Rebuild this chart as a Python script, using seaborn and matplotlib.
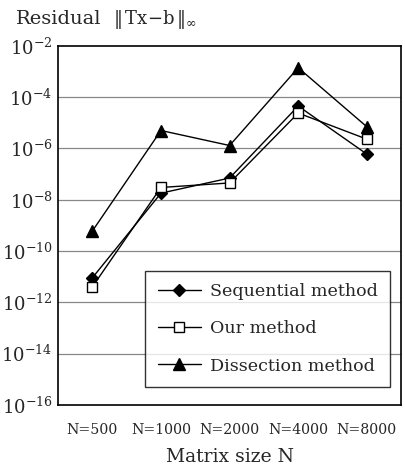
import numpy as np
import pandas as pd
import matplotlib
matplotlib.use("Agg")
import matplotlib.pyplot as plt
import seaborn as sns

sizes = ["N=500", "N=1000", "N=2000", "N=4000", "N=8000"]
sequential = [9e-12, 1.8e-8, 7e-8, 4.5e-5, 6e-7]
ours = [4e-12, 3e-8, 4.5e-8, 2.4e-5, 2.3e-6]
dissection = [6e-10, 5e-6, 1.3e-6, 1.4e-3, 7e-6]

sns.set_theme(style="white")
plt.rcParams["font.family"] = ["DejaVu Serif"]
plt.rcParams["mathtext.fontset"] = "dejavuserif"

fig = plt.figure(figsize=(4.06, 4.68), dpi=100)
ax = fig.add_axes([0.143, 0.135, 0.845, 0.767])

pos = np.arange(len(sizes))
series = [
    ("Sequential method", sequential, "D", "black", 6),
    ("Our method", ours, "s", "white", 7),
    ("Dissection method", dissection, "^", "black", 8),
]
for name, vals, mk, fc, ms in series:
    sns.lineplot(x=pos, y=vals, ax=ax, color="black", linewidth=1.0,
                 marker=mk, markersize=ms, markerfacecolor=fc,
                 markeredgecolor="black", markeredgewidth=1.0, label=name)

ax.set_yscale("log")
ax.set_ylim(1e-16, 1e-2)
ax.set_xlim(-0.5, 4.5)
yt = [10.0 ** e for e in range(-16, -1, 2)]
ax.set_yticks(yt)
ax.set_yticklabels([r"$10^{%d}$" % e for e in range(-16, -1, 2)], fontsize=13)
ax.yaxis.set_minor_locator(matplotlib.ticker.NullLocator())
for y in yt[1:-1]:
    ax.axhline(y, color="#888888", linewidth=0.9, zorder=0)

ax.set_xticks(pos)
ax.set_xticklabels(sizes, fontsize=10.2)
ax.set_xticks(pos[:-1] + 0.5, minor=True)
ax.tick_params(axis="x", which="major", length=0, pad=13)
ax.tick_params(axis="x", which="minor", direction="in", length=6, width=1.2)
ax.tick_params(axis="y", which="major", direction="in", length=6, width=1.2, pad=4)
for s in ax.spines.values():
    s.set_color("black")
    s.set_linewidth(1.2)

ax.set_xlabel("Matrix size N", fontsize=13.5, labelpad=8)
ax.set_ylabel("")

leg = ax.legend(loc="lower right", bbox_to_anchor=(0.968, 0.05), fontsize=12.6,
                frameon=True, fancybox=False, edgecolor="black",
                handlelength=2.5, handletextpad=0.5, labelspacing=1.15,
                borderpad=0.7, borderaxespad=0)
leg.get_frame().set_linewidth(1.0)

fig.text(0.04, 0.949, "Residual", fontsize=14, va="baseline")
fig.text(0.278, 0.949, r"$\Vert\,$Tx$-$b$\,\Vert_{\infty}$", fontsize=13, va="baseline")

fig.savefig("out.png", dpi=100)
